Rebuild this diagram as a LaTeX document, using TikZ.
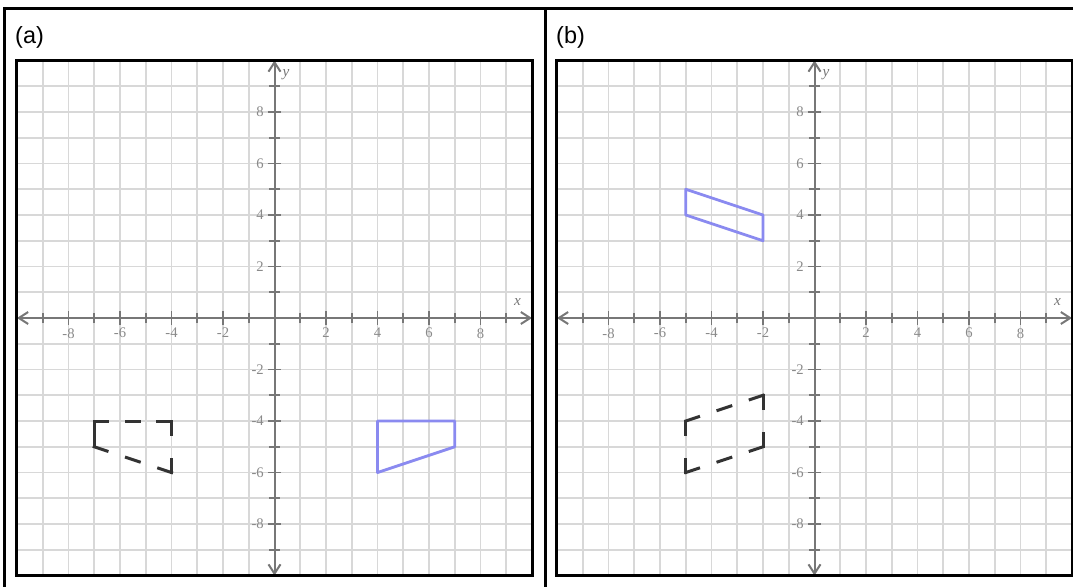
\documentclass[tikz,border=0pt]{standalone}
\usepackage{fontspec}
\usetikzlibrary{arrows.meta}
\newfontfamily\panelfont{Liberation Sans}
\newfontfamily\tickfont{Liberation Serif}
\definecolor{gridline}{HTML}{D8D8D8}
\definecolor{axisgray}{HTML}{777777}
\definecolor{ticktxt}{HTML}{8A8A8A}
\definecolor{shapeblue}{HTML}{8A8AF0}
\definecolor{shapeink}{HTML}{333333}

\begin{document}
\begin{tikzpicture}[x=0.03cm, y=-0.03cm,
  frame/.style={line width=0.09cm, black},
  gridln/.style={line width=0.05cm, gridline},
  axisln/.style={line width=0.06cm, axisgray,
    {Straight Barb[length=0.28cm,width=0.36cm]}-{Straight Barb[length=0.28cm,width=0.36cm]}},
  tickln/.style={line width=0.05cm, axisgray},
  ticklbl/.style={ticktxt, inner sep=0pt, font=\tickfont\fontsize{12.5}{12.5}\selectfont},
  axislbl/.style={axisgray, inner sep=0pt, font=\tickfont\itshape\fontsize{13}{13}\selectfont},
  bluepoly/.style={line width=0.085cm, shapeblue, line join=round},
  inkedge/.style={line width=0.09cm, shapeink, line cap=rect},
  dashedge/.style={inkedge, dash pattern=on 0.405cm off #1},
  panellbl/.style={anchor=base west, inner sep=0pt, font=\panelfont\fontsize{20}{20}\selectfont}]
  \useasboundingbox (0,0) rectangle (1073,586);
  \clip (0,0) rectangle (1073,586);
  \fill[white] (0,0) rectangle (1073,586);

  % outer frame and panel labels
  \draw[frame] (4.5,600) -- (4.5,8) -- (1090,8);
  \draw[frame] (545,8) -- (545,600);
  \node[panellbl] (lbla) at (15,43) {(a)};
  \node[panellbl] (lblb) at (556,43) {(b)};

  % the two coordinate planes
  \foreach \p/\ox in {a/274.5, b/814.5} {
    \begin{scope}[shift={(\ox,318)}, x=0.7725cm, y=0.7725cm]
      \foreach \i in {-9,...,9} {
        \draw[gridln] (\i,-10) -- (\i,10);
        \draw[gridln] (-10,\i) -- (10,\i);
      }
      \draw[axisln] (-10,0) -- (10,0);
      \draw[axisln] (0,-10) -- (0,10);
      \foreach \i in {-9,-7,...,9} {
        \draw[tickln] (\i,-0.2) -- (\i,0.2);
        \draw[tickln] (-0.2,\i) -- (0.2,\i);
      }
      \foreach \i in {-8,-6,-4,-2,2,4,6,8} {
        \draw[tickln] (\i,-0.26) -- (\i,0.26);
        \draw[tickln] (-0.26,\i) -- (0.26,\i);
        \node[ticklbl, anchor=north] (\p x\i) at (\i,-0.39) {\i};
        \node[ticklbl, anchor=east] (\p y\i) at (-0.41,\i) {\i};
      }
      \node[axislbl] (\p xlbl) at (9.44,0.64) {x};
      \node[axislbl] (\p ylbl) at (0.45,9.44) {y};
      \draw[frame] (-10,-10) rectangle (10,10);
    \end{scope}
  }

  % panel (a): figure and image
  \begin{scope}[shift={(274.5,318)}, x=0.7725cm, y=0.7725cm]
    \draw[bluepoly] (4,-4) -- (7,-4) -- (7,-5) -- (4,-6) -- cycle;
    \draw[dashedge=0.551cm] (-7,-4) -- (-4,-4);
    \draw[dashedge=0.735cm] (-4,-4) -- (-4,-6);
    \draw[dashedge=0.614cm] (-7,-5) -- (-4,-6);
    \draw[inkedge] (-7,-5) -- (-7,-4);
  \end{scope}

  % panel (b): figure and image
  \begin{scope}[shift={(814.5,318)}, x=0.7725cm, y=0.7725cm]
    \draw[bluepoly] (-5,5) -- (-2,4) -- (-2,3) -- (-5,4) -- cycle;
    \draw[dashedge=0.614cm] (-5,-4) -- (-2,-3);
    \draw[dashedge=0.735cm] (-2,-3) -- (-2,-5);
    \draw[dashedge=0.614cm] (-5,-6) -- (-2,-5);
    \draw[dashedge=0.735cm] (-5,-4) -- (-5,-6);
  \end{scope}
\end{tikzpicture}
\end{document}
